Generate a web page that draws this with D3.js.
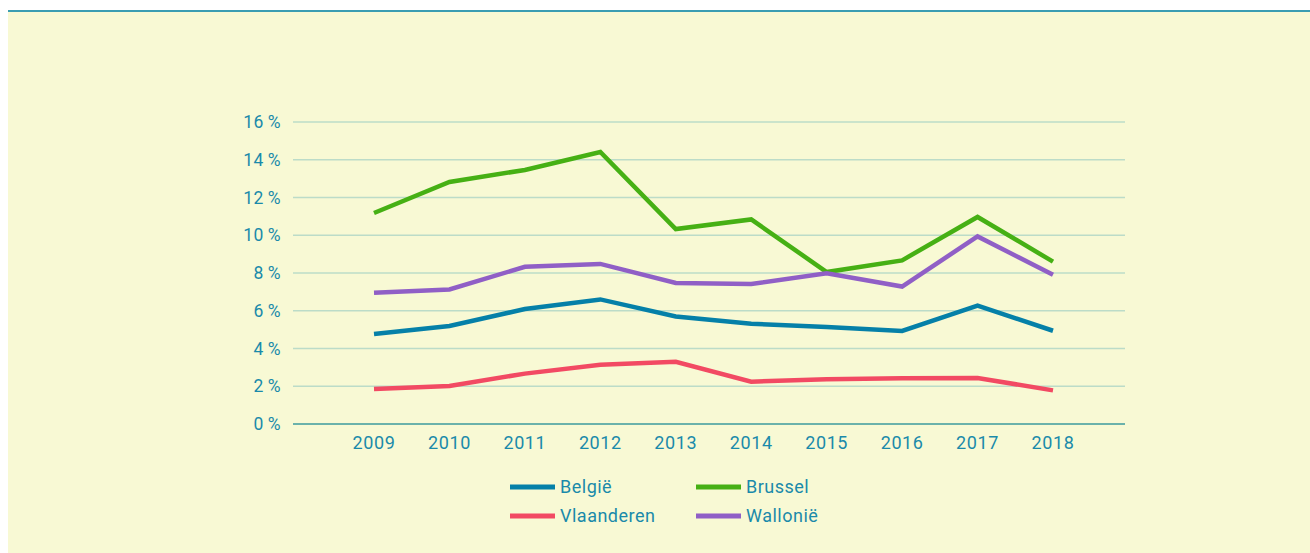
<!DOCTYPE html>
<html>
<head>
<meta charset="utf-8">
<script src="https://cdn.jsdelivr.net/npm/d3@7"></script>
<style>
  body { margin: 0; background: #fff; }
  svg { display: block; font-family: Roboto, "Noto Sans", sans-serif; }
</style>
</head>
<body>
<svg id="chart" width="1310" height="553"></svg>
<script>
var years = [2009, 2010, 2011, 2012, 2013, 2014, 2015, 2016, 2017, 2018];
var yTicks = [0, 2, 4, 6, 8, 10, 12, 14, 16];

var belgie = [4.77, 5.19, 6.09, 6.6, 5.7, 5.31, 5.14, 4.93, 6.27, 4.94];
var brussel = [11.18, 12.82, 13.46, 14.41, 10.33, 10.84, 8.05, 8.67, 10.97, 8.6];
var vlaanderen = [1.85, 2.01, 2.67, 3.14, 3.3, 2.24, 2.37, 2.42, 2.44, 1.78];
var wallonie = [6.96, 7.13, 8.33, 8.48, 7.47, 7.42, 7.98, 7.28, 9.94, 7.91];

var seriesNames = ["België", "Brussel", "Vlaanderen", "Wallonië"];
var seriesColors = ["#0580a8", "#46b014", "#f24a63", "#905fc6"];
var seriesValues = [belgie, brussel, vlaanderen, wallonie];

var svg = d3.select("#chart");
var textColor = "#1a8aaa";

// background panel and top rule
svg.append("rect").attr("x", 8).attr("y", 11).attr("width", 1302).attr("height", 542).attr("fill", "#f8f9d4");
svg.append("rect").attr("x", 8).attr("y", 10).attr("width", 1302).attr("height", 2).attr("fill", "#3b9db2");

var x = d3.scaleLinear().domain([2009, 2018]).range([374, 1053]);
var y = d3.scaleLinear().domain([0, 16]).range([424, 122]);
var left = 293, right = 1125;

// gridlines
svg.append("g")
  .selectAll("line")
  .data(yTicks.filter(d => d > 0))
  .join("line")
  .attr("x1", left).attr("x2", right)
  .attr("y1", d => y(d)).attr("y2", d => y(d))
  .attr("stroke", "#bcdcc8").attr("stroke-width", 1.3);

// x axis line
svg.append("line")
  .attr("x1", left).attr("x2", right)
  .attr("y1", y(0)).attr("y2", y(0))
  .attr("stroke", "#3c9a9e").attr("stroke-width", 1.5);

// y tick labels
svg.append("g")
  .selectAll("text")
  .data(yTicks)
  .join("text")
  .attr("x", 281)
  .attr("y", d => y(d))
  .attr("dy", "0.35em")
  .attr("text-anchor", "end")
  .attr("fill", textColor)
  .attr("font-size", 17.5)
  .attr("letter-spacing", 0.4)
  .text(d => d + "\u2009%");

// x tick labels
svg.append("g")
  .selectAll("text")
  .data(years)
  .join("text")
  .attr("x", d => x(d))
  .attr("y", 443)
  .attr("dy", "0.35em")
  .attr("text-anchor", "middle")
  .attr("fill", textColor)
  .attr("font-size", 18)
  .attr("letter-spacing", 0.6)
  .text(d => d);

// lines
var line = d3.line()
  .x((d, i) => x(years[i]))
  .y(d => y(d));

svg.append("g")
  .selectAll("path")
  .data(seriesValues)
  .join("path")
  .attr("d", d => line(d))
  .attr("fill", "none")
  .attr("stroke", (d, i) => seriesColors[i])
  .attr("stroke-width", 4.5)
  .attr("stroke-linejoin", "miter");

// legend
var legend = svg.append("g")
  .selectAll("g")
  .data(seriesNames)
  .join("g")
  .attr("transform", (d, i) => "translate(" + (i % 2 === 0 ? 510 : 696) + "," + (i < 2 ? 487 : 516) + ")");

legend.append("line")
  .attr("x1", 0).attr("x2", 45)
  .attr("stroke", (d, i) => seriesColors[i])
  .attr("stroke-width", 5);

legend.append("text")
  .attr("x", 50)
  .attr("dy", "0.35em")
  .attr("fill", textColor)
  .attr("font-size", 18)
  .attr("letter-spacing", 0.5)
  .text(d => d);
</script>
</body>
</html>
